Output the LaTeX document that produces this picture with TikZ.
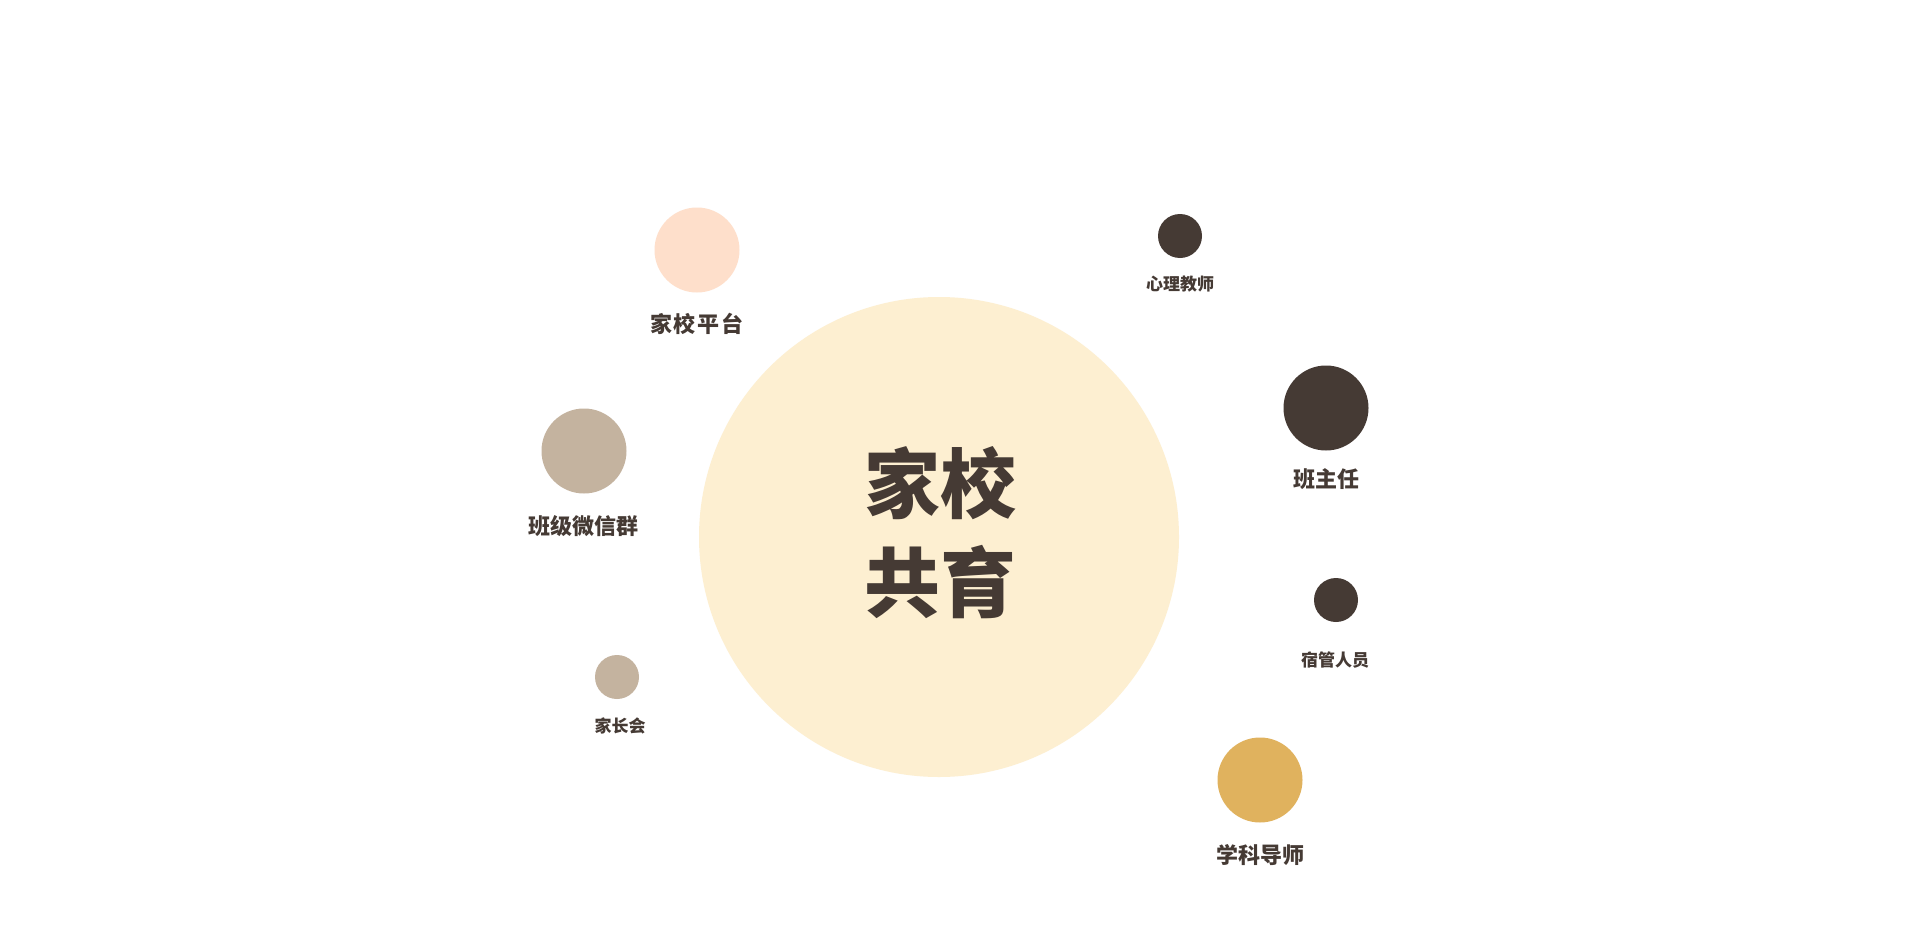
\documentclass[tikz,border=0pt]{standalone}
\usepackage{fontspec}
\newfontfamily\cjk{Noto Sans CJK SC}
\definecolor{cream}{HTML}{FDEFD1}
\definecolor{peach}{HTML}{FEDFCB}
\definecolor{tan}{HTML}{C4B39F}
\definecolor{cocoa}{HTML}{453A34}
\definecolor{gold}{HTML}{E0B25E}
\tikzset{
  x=1pt, y=-1pt,
  dot/.style={circle, inner sep=0pt, minimum size=#1, draw=none},
  biglabel/.style={text=cocoa, font=\cjk\bfseries\fontsize{22}{25}\selectfont, inner sep=0pt},
  smalllabel/.style={text=cocoa, font=\cjk\bfseries\fontsize{17}{20}\selectfont, inner sep=0pt},
  centertext/.style={text=cocoa, font=\cjk\bfseries\fontsize{76}{99}\selectfont, align=center, inner sep=0pt},
}
\begin{document}
\begin{tikzpicture}
\useasboundingbox (0,0) rectangle (1920,926);
\fill[white] (0,0) rectangle (1920,926);
% central circle
\node[dot=480pt, fill=cream] (hub) at (939,537) {};
\node[centertext] (title) at (940,533) {家校\\共育};
% satellites
\node[dot=85pt, fill=peach] (pingtai) at (697,250) {};
\node[biglabel] (pingtaiL) at (697,324) {家\kern2pt 校\kern2pt 平\kern2pt 台};
\node[dot=85pt, fill=tan] (weixin) at (584,451) {};
\node[biglabel] (weixinL) at (583,526) {班级微信群};
\node[dot=44pt, fill=tan] (jiazhang) at (617,677) {};
\node[smalllabel] (jiazhangL) at (620,726) {家长会};
\node[dot=44pt, fill=cocoa] (xinli) at (1180,236) {};
\node[smalllabel] (xinliL) at (1180,284) {心理教师};
\node[dot=85pt, fill=cocoa] (banzhu) at (1326,408) {};
\node[biglabel] (banzhuL) at (1326,479) {班主任};
\node[dot=44pt, fill=cocoa] (suguan) at (1336,600) {};
\node[smalllabel] (suguanL) at (1335,660) {宿管人员};
\node[dot=85pt, fill=gold] (xueke) at (1260,780) {};
\node[biglabel] (xuekeL) at (1260,855) {学科导师};
\end{tikzpicture}
\end{document}
